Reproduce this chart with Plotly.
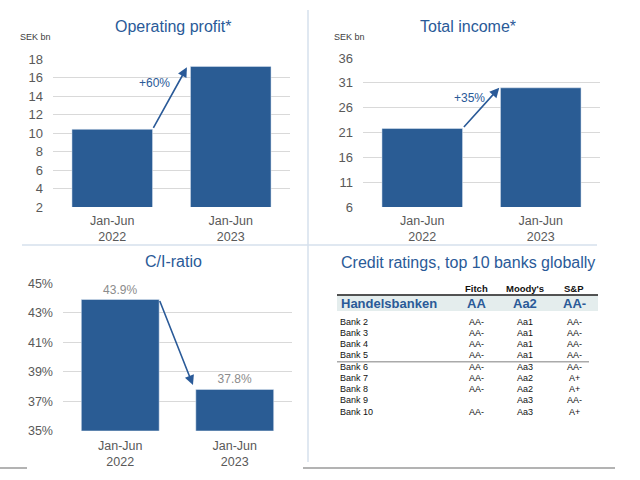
import plotly.graph_objects as go

# ---------------- data ----------------
periods = ["Jan-Jun<br>2022", "Jan-Jun<br>2023"]
op_profit = [10.4, 17.2]
total_income = [21.8, 30.0]
ci_ratio = [43.9, 37.8]
op_change = "+60%"
inc_change = "+35%"

rating_cols = ["Fitch", "Moody's", "S&P"]
top_bank = "Handelsbanken"
top_ratings = ["AA", "Aa2", "AA-"]
bank_names = ["Bank 2", "Bank 3", "Bank 4", "Bank 5", "Bank 6",
              "Bank 7", "Bank 8", "Bank 9", "Bank 10"]
fitch = ["AA-", "AA-", "AA-", "AA-", "AA-", "AA-", "AA-", "", "AA-"]
moodys = ["Aa1", "Aa1", "Aa1", "Aa1", "Aa3", "Aa2", "Aa2", "Aa3", "Aa3"]
sp = ["AA-", "AA-", "AA-", "AA-", "AA-", "A+", "A+", "AA-", "A+"]

# ---------------- style ----------------
W, H = 640, 480
FONT = "Liberation Sans, Arial, Helvetica, sans-serif"
BAR = "#2a5c94"
BLUE = "#2a5a98"
GRID = "#d9d9d9"
TICK = "#595959"


def px(x):
    return x / W


def py(y):
    return 1 - y / H


fig = go.Figure()
cats = [0, 1]

fig.add_trace(go.Bar(x=cats, y=op_profit, marker_color=BAR, width=0.68,
                     xaxis="x", yaxis="y", showlegend=False, hoverinfo="skip"))
fig.add_trace(go.Bar(x=cats, y=total_income, marker_color=BAR, width=0.68,
                     xaxis="x2", yaxis="y2", showlegend=False, hoverinfo="skip"))
fig.add_trace(go.Bar(x=cats, y=ci_ratio, marker_color=BAR, width=0.68,
                     text=[f"{v}%" for v in ci_ratio], textposition="outside",
                     textfont=dict(family=FONT, size=12, color="#8c8c8c"),
                     cliponaxis=False,
                     xaxis="x3", yaxis="y3", showlegend=False, hoverinfo="skip"))


def xax(domain, anchor, standoff=4):
    return dict(domain=domain, anchor=anchor, range=[-0.5, 1.5],
                tickmode="array", tickvals=cats, ticktext=periods,
                showgrid=False, zeroline=False, showline=False, ticks="",
                tickfont=dict(family=FONT, size=12.5, color=TICK),
                ticklabelstandoff=standoff, fixedrange=True, automargin=False)


def yax(domain, anchor, rng, tick0, dtick, size, suffix=""):
    return dict(domain=domain, anchor=anchor, range=rng, tick0=tick0,
                dtick=dtick, tickmode="linear", ticksuffix=suffix,
                showgrid=True, gridcolor=GRID, gridwidth=1, zeroline=False,
                showline=False, ticks="",
                tickfont=dict(family=FONT, size=size, color=TICK),
                ticklabelstandoff=9, fixedrange=True, automargin=False)


layout = dict(
    width=W, height=H, margin=dict(l=0, r=0, t=0, b=0, pad=0),
    autosize=False,
    paper_bgcolor="white", plot_bgcolor="white",
    font=dict(family=FONT), bargap=0,
    xaxis=xax([px(53), px(290)], "y"),
    yaxis=yax([py(207), py(59)], "x", [2, 18], 2, 2, 13),
    xaxis2=xax([px(363), px(600)], "y2"),
    yaxis2=yax([py(207), py(58)], "x2", [6, 36], 6, 5, 13),
    xaxis3=xax([px(63), px(292)], "y3", standoff=6),
    yaxis3=yax([py(430.7), py(283.3)], "x3", [35, 45], 35, 2, 12.5, "%"),
)
fig.update_layout(**layout)

ann = []
shapes = []


def text(x, y, t, size, color, bold=False, xanchor="center"):
    ann.append(dict(x=px(x), y=py(y), xref="paper", yref="paper",
                    text=f"<b>{t}</b>" if bold else t, showarrow=False,
                    xanchor=xanchor, yanchor="middle",
                    font=dict(family=FONT, size=size, color=color)))


def line(x0, y0, x1, y1, color, width):
    shapes.append(dict(type="line", xref="paper", yref="paper",
                       x0=px(x0), y0=py(y0), x1=px(x1), y1=py(y1),
                       line=dict(color=color, width=width)))


# titles
text(173, 26, "Operating profit*", 16, BLUE)
text(468, 26, "Total income*", 16, BLUE)
text(173, 261, "C/I-ratio", 16, BLUE)
text(468, 262, "Credit ratings, top 10 banks globally", 16, BLUE)
text(35, 37, "SEK bn", 9, "#404040")
text(349, 37, "SEK bn", 9, "#404040")


# growth arrows (data coordinates)
def arrow(xr, yr, x_head, y_head, x_tail, y_tail):
    ann.append(dict(x=x_head, y=y_head, ax=x_tail, ay=y_tail,
                    xref=xr, yref=yr, axref=xr, ayref=yr, text="",
                    showarrow=True, arrowhead=2, arrowsize=1.2,
                    arrowwidth=1.6, arrowcolor=BLUE))


arrow("x", "y", 0.63, op_profit[1] - 0.1, 0.34, op_profit[0])
arrow("x2", "y2", 0.65, total_income[1], 0.34, total_income[0])
arrow("x3", "y3", 0.635, ci_ratio[1] + 0.3, 0.34, ci_ratio[0])

ann.append(dict(x=0.36, y=15.4, xref="x", yref="y", text=op_change,
                showarrow=False, font=dict(family=FONT, size=12, color=BLUE)))
ann.append(dict(x=0.395, y=27.95, xref="x2", yref="y2", text=inc_change,
                showarrow=False, font=dict(family=FONT, size=12, color=BLUE)))

# separators
line(308, 10, 308, 462, "#d6e0ec", 1.5)
line(22, 245, 597, 245, "#d6e0ec", 1.5)
line(0, 468, 27, 468, "#9a9a9a", 1.5)
line(303, 468, 615, 468, "#9a9a9a", 1.5)

# ratings table
col_x = [476, 525, 574]
shapes.append(dict(type="rect", xref="paper", yref="paper",
                   x0=px(337), x1=px(598), y0=py(311), y1=py(295.5),
                   fillcolor="#e4eded", line=dict(width=0), layer="below"))
line(337, 295, 598, 295, "#1a1a1a", 1.5)
for cx, c in zip(col_x, rating_cols):
    text(cx, 288.5, c, 9.5, "#111111", bold=True)
text(339, 303, top_bank, 13, BLUE, bold=True, xanchor="left")
for cx, r in zip(col_x, top_ratings):
    text(cx, 303, r, 13, BLUE, bold=True)
for i, name in enumerate(bank_names):
    yy = 321.7 + i * 11.25
    text(338, yy, name, 9, "#111111", xanchor="left")
    for cx, v in zip(col_x, [fitch[i], moodys[i], sp[i]]):
        if v:
            text(cx, yy, v, 9, "#111111")
line(337, 361.7, 589, 361.7, "#aaaaaa", 1.5)

fig.update_layout(annotations=ann, shapes=shapes)
fig.write_html("out.html",
               config={"displayModeBar": False, "staticPlot": True},
               post_script="document.body.style.margin='0';"
                           "document.body.style.overflow='hidden';")
